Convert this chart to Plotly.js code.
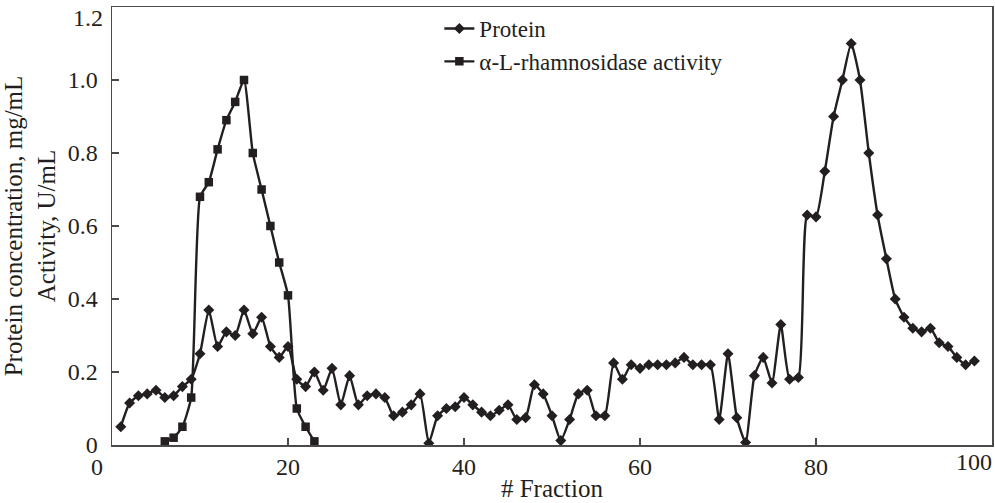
<!DOCTYPE html>
<html>
<head>
<meta charset="utf-8">
<script src="https://cdn.plot.ly/plotly-3.0.1.min.js"></script>
<style>
  html, body { margin: 0; padding: 0; background: #fff; }
  #chart { width: 995px; height: 503px; }
</style>
</head>
<body>
<div id="chart"></div>
<script>
// Protein concentration (mg/mL) per fraction
const proteinFractions = [1,2,3,4,5,6,7,8,9,10,11,12,13,14,15,16,17,18,19,20,
  21,22,23,24,25,26,27,28,29,30,31,32,33,34,35,36,37,38,39,40,
  41,42,43,44,45,46,47,48,49,50,51,52,53,54,55,56,57,58,59,60,
  61,62,63,64,65,66,67,68,69,70,71,72,73,74,75,76,77,78,79,80,
  81,82,83,84,85,86,87,88,89,90,91,92,93,94,95,96,97,98];
const proteinValues = [0.05,0.115,0.135,0.14,0.15,0.13,0.135,0.16,0.18,0.25,
  0.37,0.27,0.31,0.30,0.37,0.305,0.35,0.27,0.24,0.27,
  0.18,0.16,0.20,0.15,0.21,0.11,0.19,0.11,0.135,0.14,
  0.13,0.08,0.09,0.11,0.14,0.005,0.08,0.10,0.105,0.13,
  0.11,0.09,0.08,0.095,0.11,0.07,0.075,0.165,0.14,0.08,
  0.012,0.07,0.14,0.15,0.08,0.08,0.225,0.18,0.22,0.21,
  0.22,0.22,0.22,0.225,0.24,0.22,0.22,0.22,0.07,0.25,
  0.075,0.007,0.19,0.24,0.17,0.33,0.18,0.185,0.63,0.625,
  0.75,0.90,1.00,1.10,1.00,0.80,0.63,0.51,0.40,0.35,
  0.32,0.31,0.32,0.28,0.27,0.24,0.22,0.23];

// alpha-L-rhamnosidase activity (U/mL) per fraction
const activityFractions = [6,7,8,9,10,11,12,13,14,15,16,17,18,19,20,21,22,23];
const activityValues = [0.01,0.02,0.05,0.13,0.68,0.72,0.81,0.89,0.94,1.00,
  0.80,0.70,0.60,0.50,0.41,0.10,0.05,0.01];

const NB = '\u00a0';
// inner x ticks, and the end tick drawn left-aligned inside the figure
const xTickVals = [0,20,40,60,80];
const xTickText = ['0' + NB.repeat(5),'20','40','60','80'];
const xEndTickVals = [100];
const xEndTickText = ['100'];
// inner y ticks, and the top tick drawn just below the corner
const yTickVals = [0,0.2,0.4,0.6,0.8,1.0];
const yTickText = ['0','0.2','0.4','0.6','0.8','1.0'];
const yEndTickVals = [1.2];
const yEndTickText = ['1.2'];

const ink = '#231f20';
const axisCol = '#4a4a4a';
const fontFam = '"Liberation Serif", "DejaVu Serif", serif';

const traces = [
  {
    x: proteinFractions, y: proteinValues,
    xaxis: 'x', yaxis: 'y',
    type: 'scatter', mode: 'lines+markers', name: 'Protein',
    line: {color: ink, width: 2.4, shape: 'spline', smoothing: 0.5},
    marker: {symbol: 'diamond', size: 8.5, color: ink}
  },
  {
    x: activityFractions, y: activityValues,
    xaxis: 'x2', yaxis: 'y2',
    type: 'scatter', mode: 'lines+markers', name: 'α-L-rhamnosidase activity',
    line: {color: ink, width: 2.4, shape: 'spline', smoothing: 0.5},
    marker: {symbol: 'square', size: 8.5, color: ink}
  }
];

const tickFont = {family: fontFam, size: 24, color: ink};

const layout = {
  width: 995, height: 503,
  margin: {l: 112, r: 3, t: 7, b: 58, pad: 0},
  paper_bgcolor: '#ffffff', plot_bgcolor: '#ffffff',
  font: {family: fontFam, size: 24, color: ink},
  showlegend: true,
  legend: {
    x: 0.372, y: 1.0, xanchor: 'left', yanchor: 'top',
    bgcolor: 'rgba(0,0,0,0)', borderwidth: 0,
    font: {family: fontFam, size: 23, color: ink},
    tracegroupgap: 0
  },
  xaxis: {
    range: [0, 100], autorange: false,
    tickmode: 'array', tickvals: xTickVals, ticktext: xTickText,
    ticks: 'inside', ticklen: 7, tickwidth: 1.2, tickcolor: axisCol,
    showline: true, linecolor: axisCol, linewidth: 1.5, mirror: true,
    showgrid: false, zeroline: false,
    tickfont: tickFont,
    title: {text: '# Fraction', font: {family: fontFam, size: 25, color: ink}, standoff: 0}
  },
  xaxis2: {
    range: [0, 100], autorange: false, overlaying: 'x', anchor: 'y2', side: 'bottom',
    tickmode: 'array', tickvals: xEndTickVals, ticktext: xEndTickText,
    ticks: '', showline: false, showgrid: false, zeroline: false,
    ticklabelposition: 'outside left',
    tickfont: tickFont
  },
  yaxis: {
    range: [0, 1.2], autorange: false,
    tickmode: 'array', tickvals: yTickVals, ticktext: yTickText,
    ticks: 'inside', ticklen: 7, tickwidth: 1.2, tickcolor: axisCol,
    showline: true, linecolor: axisCol, linewidth: 1.5, mirror: true,
    showgrid: false, zeroline: false,
    ticklabelstandoff: 8,
    tickfont: tickFont,
    title: {text: 'Protein concentration, mg/mL<br>Activity, U/mL', font: {family: fontFam, size: 25, color: ink}, standoff: 6}
  },
  yaxis2: {
    range: [0, 1.2], autorange: false, overlaying: 'y', anchor: 'x2', side: 'left',
    tickmode: 'array', tickvals: yEndTickVals, ticktext: yEndTickText,
    ticks: '', showline: false, showgrid: false, zeroline: false,
    ticklabelposition: 'outside bottom',
    ticklabelstandoff: 8,
    ticklabelshift: -6,
    tickfont: tickFont
  }
};

Plotly.newPlot('chart', traces, layout, {displayModeBar: false, staticPlot: true});
</script>
</body>
</html>
